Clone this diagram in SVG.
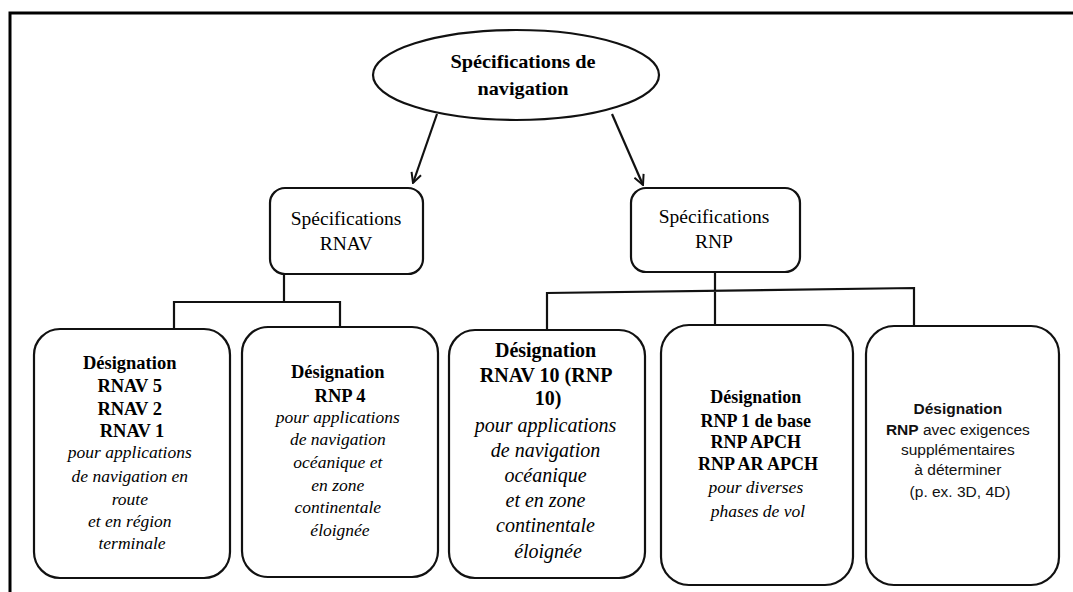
<svg xmlns="http://www.w3.org/2000/svg" width="1073" height="592" viewBox="0 0 1073 592">
<style>
.frame{stroke:#000;stroke-width:3;fill:none}
.box{fill:#fff;stroke:#111;stroke-width:2.2}
.conn{stroke:#111;stroke-width:2.2;fill:none}
.serif{font-family:"Liberation Serif","Times New Roman",serif;fill:#000;text-anchor:middle}
.sans{font-family:"Liberation Sans",Arial,sans-serif;fill:#111;text-anchor:middle}
.b{font-weight:bold}
.i{font-style:italic}
</style>
<defs>
<marker id="arr" viewBox="0 0 12 12" refX="11" refY="6" markerWidth="12" markerHeight="12" markerUnits="userSpaceOnUse" orient="auto">
<path d="M1,1 L11,6 L1,11" fill="none" stroke="#111" stroke-width="2"/>
</marker>
</defs>
<rect width="1073" height="592" fill="#fff"/>
<path class="frame" d="M10,592 L10,13 L1073,13"/>

<g id="connectors">
<line class="conn" x1="437" y1="114" x2="413" y2="183" marker-end="url(#arr)"/>
<line class="conn" x1="612" y1="114" x2="643" y2="185" marker-end="url(#arr)"/>
<path class="conn" d="M284,274 L284,302 M174,330 L174,302 L340,302 L340,328"/>
<path class="conn" d="M715,272 L715,326 M547,331 L547,293 L914,288 L914,327"/>
</g>

<g id="root">
<ellipse cx="516" cy="75" rx="143" ry="45" class="box"/>
<text class="serif b" x="523" y="68" font-size="19" textLength="145" lengthAdjust="spacingAndGlyphs">Spécifications de</text>
<text class="serif b" x="523" y="95" font-size="19" textLength="91" lengthAdjust="spacingAndGlyphs">navigation</text>
</g>

<g id="rnav">
<rect x="270" y="188" width="153" height="86" rx="15" class="box"/>
<text class="serif" x="346" y="225" font-size="19.5">Spécifications</text>
<text class="serif" x="346" y="250" font-size="19.5">RNAV</text>
</g>

<g id="rnp">
<rect x="631" y="188" width="169" height="84" rx="15" class="box"/>
<text class="serif" x="714" y="223" font-size="19.5">Spécifications</text>
<text class="serif" x="714" y="248" font-size="19.5">RNP</text>
</g>

<g id="box1">
<rect x="34" y="329" width="196" height="249" rx="26" class="box"/>
<text class="serif b" font-size="18.5">
<tspan x="132" y="369">Désignation</tspan>
<tspan x="132" y="392">RNAV 5</tspan>
<tspan x="132" y="415">RNAV 2</tspan>
<tspan x="132" y="437">RNAV 1</tspan>
</text>
<text class="serif i" font-size="17.5">
<tspan x="132" y="458">pour applications</tspan>
<tspan x="132" y="482">de navigation en</tspan>
<tspan x="132" y="505">route</tspan>
<tspan x="132" y="527">et en région</tspan>
<tspan x="132" y="549">terminale</tspan>
</text>
</g>

<g id="box2">
<rect x="242" y="327" width="196" height="250" rx="26" class="box"/>
<text class="serif b" font-size="18.5">
<tspan x="340" y="378">Désignation</tspan>
<tspan x="340" y="402">RNP 4</tspan>
</text>
<text class="serif i" font-size="17.5">
<tspan x="340" y="423">pour applications</tspan>
<tspan x="340" y="445">de navigation</tspan>
<tspan x="340" y="468">océanique et</tspan>
<tspan x="340" y="491">en zone</tspan>
<tspan x="340" y="513">continentale</tspan>
<tspan x="340" y="536">éloignée</tspan>
</text>
</g>

<g id="box3">
<rect x="449" y="330" width="196" height="248" rx="26" class="box"/>
<text class="serif b" font-size="20">
<tspan x="548" y="357">Désignation</tspan>
<tspan x="548" y="382">RNAV 10 (RNP</tspan>
<tspan x="548" y="405">10)</tspan>
</text>
<text class="serif i" font-size="20">
<tspan x="548" y="432">pour applications</tspan>
<tspan x="548" y="457">de navigation</tspan>
<tspan x="548" y="482">océanique</tspan>
<tspan x="548" y="507">et en zone</tspan>
<tspan x="548" y="532">continentale</tspan>
<tspan x="548" y="558">éloignée</tspan>
</text>
</g>

<g id="box4">
<rect x="661" y="325" width="192" height="260" rx="28" class="box"/>
<text class="serif b" font-size="18">
<tspan x="758" y="403">Désignation</tspan>
<tspan x="758" y="427">RNP 1 de base</tspan>
<tspan x="758" y="448">RNP APCH</tspan>
<tspan x="758" y="470">RNP AR APCH</tspan>
</text>
<text class="serif i" font-size="17.5">
<tspan x="758" y="493">pour diverses</tspan>
<tspan x="758" y="517">phases de vol</tspan>
</text>
</g>

<g id="box5">
<rect x="866" y="326" width="193" height="259" rx="28" class="box"/>
<text class="sans" font-size="15.5">
<tspan x="960" y="414" font-weight="bold">Désignation</tspan>
<tspan x="960" y="435"><tspan font-weight="bold">RNP</tspan> avec exigences</tspan>
<tspan x="960" y="455">supplémentaires</tspan>
<tspan x="960" y="475">à déterminer</tspan>
<tspan x="960" y="497">(p. ex. 3D, 4D)</tspan>
</text>
</g>
</svg>
